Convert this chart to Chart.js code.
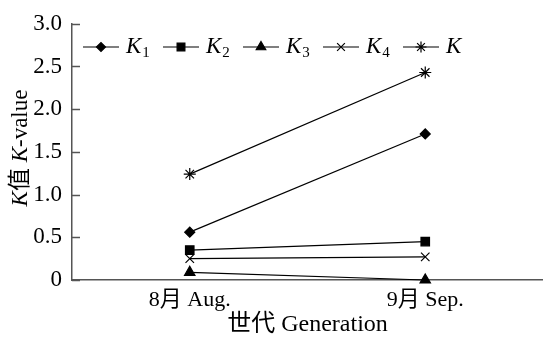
<!DOCTYPE html>
<html><head><meta charset="utf-8">
<script src="https://cdn.jsdelivr.net/npm/chart.js@4/dist/chart.umd.min.js"></script>
<style>html,body{margin:0;padding:0;background:#fff}#wrap{width:543px;height:339px}</style>
</head><body><div id="wrap"><canvas id="c" width="543" height="339"></canvas></div>
<script>
const categories = ["8月 Aug.", "9月 Sep."];
const seriesNames = ["K1", "K2", "K3", "K4", "K"];
const K1 = [0.56, 1.71];
const K2 = [0.35, 0.45];
const K3 = [0.09, 0.00];
const K4 = [0.25, 0.27];
const Kall = [1.24, 2.43];
const yTicks = [0, 0.5, 1.0, 1.5, 2.0, 2.5, 3.0];
const markers = ["rectRot", "rect", "triangle", "crossRot", "star"];
const radii = [5, 6, 6, 6, 6];

const SERIF = '"Liberation Serif","Times New Roman","Noto Sans CJK SC",serif';
const values = [K1, K2, K3, K4, Kall];

const datasets = values.map((v, i) => ({
  label: seriesNames[i], data: v,
  borderColor: '#000', backgroundColor: '#000', borderWidth: 1.2,
  pointStyle: markers[i], pointRadius: radii[i], pointBorderWidth: 1.2,
  pointBorderColor: '#000', pointBackgroundColor: '#000', clip: false
}));

const extras = {
  id: 'extras',
  afterDraw(chart) {
    const ctx = chart.ctx, y = chart.scales.y, a = chart.chartArea;
    ctx.save();
    ctx.strokeStyle = '#555'; ctx.lineWidth = 1.5;
    yTicks.forEach(t => {
      const py = Math.round(y.getPixelForValue(t)) + 0.5;
      ctx.beginPath(); ctx.moveTo(a.left, py); ctx.lineTo(a.left + 8, py); ctx.stroke();
    });
    // y-axis title
    ctx.translate(21, 148); ctx.rotate(-Math.PI / 2);
    ctx.fillStyle = '#000'; ctx.textBaseline = 'middle';
    const parts = [["K", 'italic 23px ' + SERIF], ["值 ", '23px ' + SERIF], ["K", 'italic 23px ' + SERIF], ["-value", '23px ' + SERIF]];
    let w = 0; parts.forEach(p => { ctx.font = p[1]; w += ctx.measureText(p[0]).width; });
    let x = -w / 2;
    parts.forEach(p => { ctx.font = p[1]; ctx.fillText(p[0], x, 0); x += ctx.measureText(p[0]).width; });
    ctx.restore();
    // legend
    ctx.save();
    const ly = 47;
    seriesNames.forEach((n, i) => {
      const x0 = 83 + i * 80;
      ctx.strokeStyle = '#000'; ctx.lineWidth = 1.2;
      ctx.beginPath(); ctx.moveTo(x0, ly); ctx.lineTo(x0 + 36, ly); ctx.stroke();
      ctx.fillStyle = '#000';
      Chart.helpers.drawPoint(ctx, { pointStyle: markers[i], radius: radii[i] - 0.5, rotation: 0, borderWidth: 1.2 }, x0 + 18, ly);
      ctx.fillStyle = '#000'; ctx.textBaseline = 'middle';
      ctx.font = 'italic 23px ' + SERIF;
      const lx = x0 + 43;
      ctx.fillText("K", lx, ly);
      const kw = ctx.measureText("K").width;
      if (n.length > 1) { ctx.font = '15px ' + SERIF; ctx.fillText(n.slice(1), lx + kw + 1, ly + 6); }
    });
    ctx.restore();
  }
};

new Chart(document.getElementById('c'), {
  type: 'line',
  data: { labels: categories, datasets },
  options: {
    responsive: false, animation: false, devicePixelRatio: 1,
    layout: { autoPadding: false, padding: { top: 21, right: 0, left: 0, bottom: 0 } },
    plugins: { legend: { display: false }, tooltip: { enabled: false } },
    scales: {
      x: {
        offset: true,
        grid: { display: false, drawTicks: false },
        border: { display: true, color: '#555', width: 1.5 },
        ticks: { color: '#000', font: { family: SERIF, size: 22 }, padding: 7 },
        title: { display: true, text: '世代 Generation', color: '#000', font: { family: SERIF, size: 24 }, padding: { top: 0, bottom: 0 } },
        afterFit(s) { s.height = 59; }
      },
      y: {
        min: 0, max: 3,
        afterBuildTicks(s) { s.ticks = yTicks.map(v => ({ value: v })); },
        grid: { display: false, drawTicks: false },
        border: { display: true, color: '#555', width: 1.5 },
        ticks: { color: '#000', font: { family: SERIF, size: 23 }, padding: 10,
          callback: v => v === 0 ? '0' : v.toFixed(1) },
        afterFit(s) { s.width = 72; }
      }
    }
  },
  plugins: [extras]
});
</script></body></html>
